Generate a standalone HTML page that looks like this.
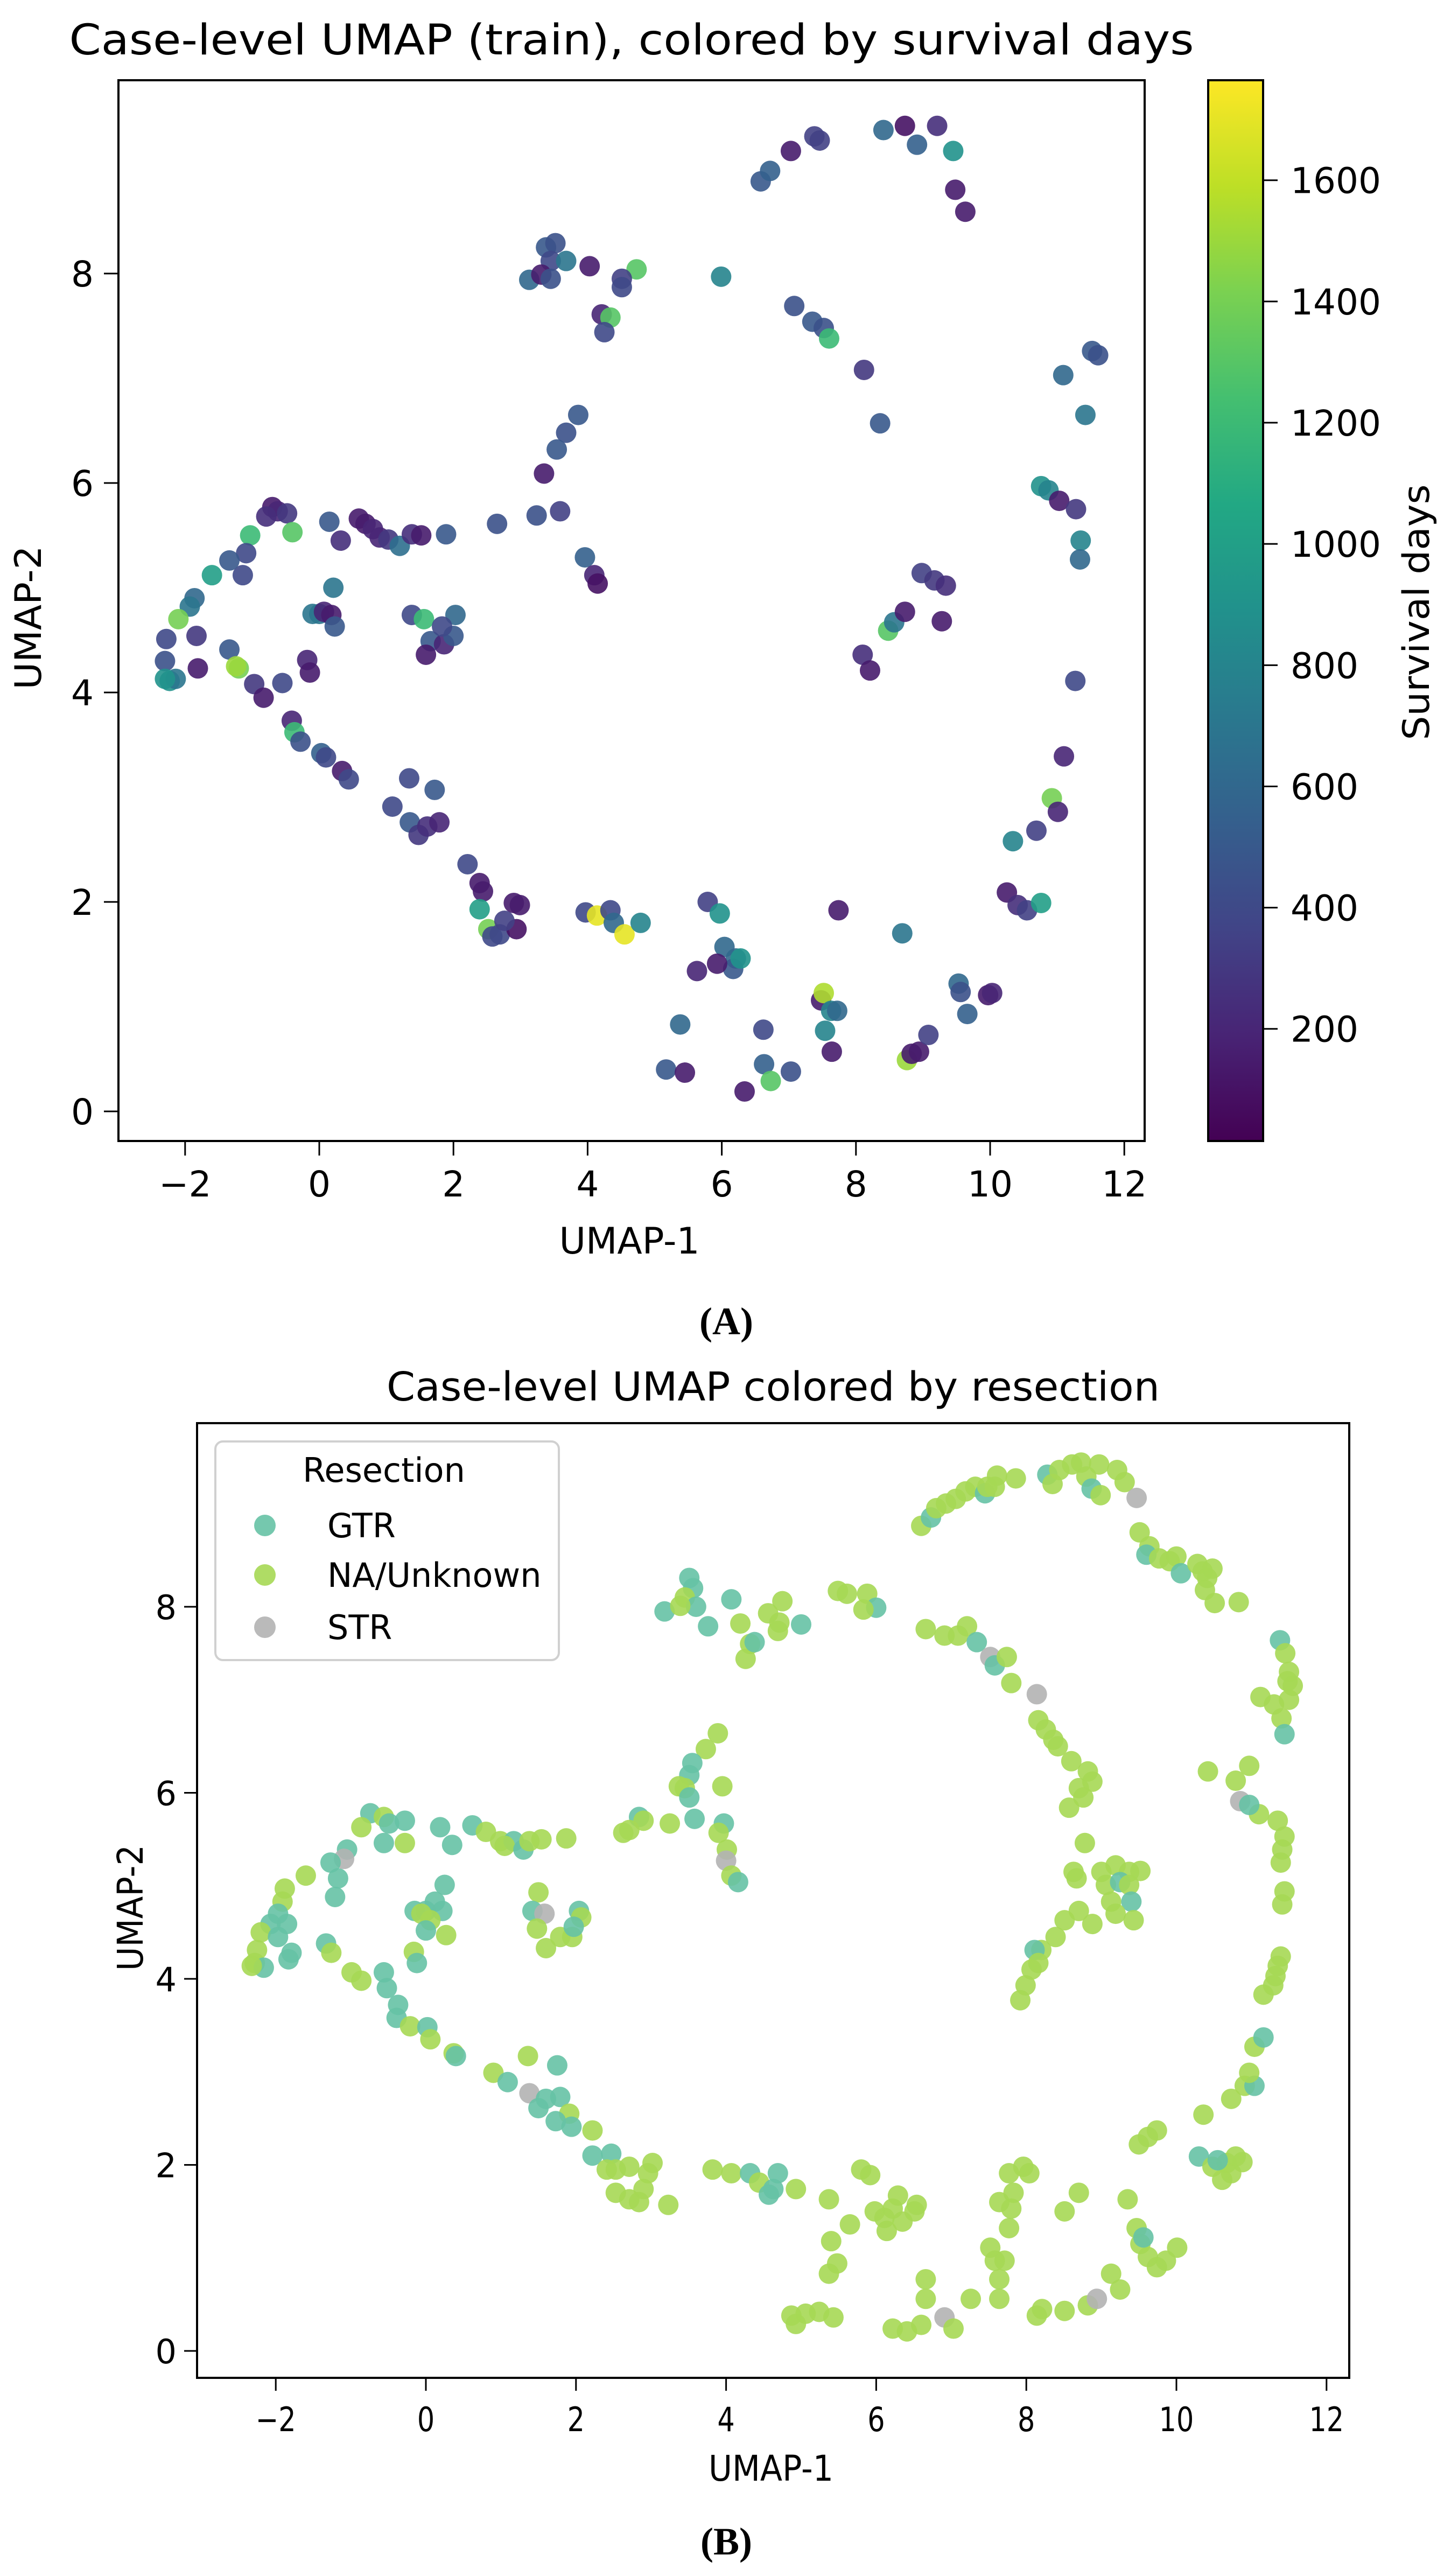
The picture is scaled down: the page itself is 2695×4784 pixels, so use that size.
<!DOCTYPE html>
<html><head><meta charset="utf-8">
<style>
html,body{margin:0;padding:0;background:#fff;}
svg{display:block;}
text{font-family:"DejaVu Sans","Liberation Sans",sans-serif;fill:#000;}
</style></head>
<body>
<svg id="fig" width="2695" height="4784" viewBox="0 0 2695 4784" xmlns="http://www.w3.org/2000/svg">
<defs>
<linearGradient id="viridis" x1="0" y1="1" x2="0" y2="0">
<stop offset="0" stop-color="#440154"/><stop offset="0.1" stop-color="#482475"/><stop offset="0.2" stop-color="#414487"/><stop offset="0.3" stop-color="#355f8d"/><stop offset="0.4" stop-color="#2a788e"/><stop offset="0.5" stop-color="#21918c"/><stop offset="0.6" stop-color="#22a884"/><stop offset="0.7" stop-color="#44bf70"/><stop offset="0.8" stop-color="#7ad151"/><stop offset="0.9" stop-color="#bddf26"/><stop offset="1" stop-color="#fde725"/>
</linearGradient>
<clipPath id="clipA"><rect x="220" y="149" width="1906" height="1970"/></clipPath>
<clipPath id="clipB"><rect x="366" y="2643" width="2140" height="1773"/></clipPath>
</defs>
<g id="panelA">
<text x="1173" y="101" font-size="78" text-anchor="middle" textLength="2089" lengthAdjust="spacingAndGlyphs">Case-level UMAP (train), colored by survival days</text>
<g id="pointsA" clip-path="url(#clipA)"></g>
<rect x="220" y="149" width="1906" height="1970" fill="none" stroke="#000" stroke-width="4"/>
<g id="ticksA"></g>
<text x="1169" y="2328" font-size="68" text-anchor="middle" textLength="261" lengthAdjust="spacingAndGlyphs">UMAP-1</text>
<text x="0" y="0" font-size="68" text-anchor="middle" textLength="267" lengthAdjust="spacingAndGlyphs" transform="translate(76,1147) rotate(-90)">UMAP-2</text>
<rect x="2244" y="149" width="102" height="1970" fill="url(#viridis)" stroke="#000" stroke-width="4"/>
<g id="cbTicks"></g>
<text x="0" y="0" font-size="68" text-anchor="middle" textLength="475" lengthAdjust="spacingAndGlyphs" transform="translate(2654,1137) rotate(-90)">Survival days</text>
<text x="1349" y="2478" font-size="72" font-weight="bold" text-anchor="middle" style="font-family:'Liberation Serif',serif">(A)</text>
</g>
<g id="panelB">
<text x="1436" y="2601" font-size="74" text-anchor="middle" textLength="1436" lengthAdjust="spacingAndGlyphs">Case-level UMAP colored by resection</text>
<g id="pointsB" clip-path="url(#clipB)"></g>
<rect x="366" y="2643" width="2140" height="1773" fill="none" stroke="#000" stroke-width="4"/>
<g id="ticksB"></g>
<text x="1432" y="4607" font-size="66" text-anchor="middle" textLength="232" lengthAdjust="spacingAndGlyphs">UMAP-1</text>
<text x="0" y="0" font-size="66" text-anchor="middle" textLength="234" lengthAdjust="spacingAndGlyphs" transform="translate(265,3543) rotate(-90)">UMAP-2</text>
<g>
<rect x="400" y="2677" width="638" height="406" rx="14" fill="#fff" fill-opacity="0.8" stroke="#d0d0d0" stroke-width="4"/>
<text x="713" y="2752" font-size="62" text-anchor="middle">Resection</text>
<g id="legendEntries"></g>
</g>
<text x="1349" y="4744" font-size="72" font-weight="bold" text-anchor="middle" style="font-family:'Liberation Serif',serif">(B)</text>
</g>
</svg>
<script>
// ---------- Panel A data ----------
const aX=[6.58,6.72,7.03,7.38,7.46,8.41,8.73,8.91,9.21,9.45,9.48,9.63,
3.38,3.52,3.45,3.68,3.13,3.31,3.45,4.03,4.73,4.51,4.51,4.21,4.34,4.25,5.99,7.08,7.35,7.52,7.60,8.12,8.36,11.09,11.42,11.52,11.61,
3.86,3.68,3.54,3.35,3.24,3.59,3.96,4.10,4.15,
-0.70,-0.62,-0.79,-0.48,-0.40,-1.03,-1.09,-1.14,-1.34,-1.60,-1.86,-1.93,-2.10,-2.28,-1.83,-2.30,-2.23,-2.14,-2.30,-1.81,-1.34,-1.20,-1.24,-0.97,-0.83,-0.55,-0.18,-0.14,-0.41,-0.37,-0.28,0.03,0.10,0.34,0.44,1.09,1.34,1.72,1.35,1.48,1.61,1.79,2.21,2.39,2.44,2.39,2.52,2.58,2.69,2.90,2.99,2.94,2.76,
-0.10,0.00,0.21,0.07,0.18,0.23,0.15,0.32,0.59,0.69,0.80,0.90,1.03,1.20,1.38,1.52,1.89,2.65,1.38,1.56,1.66,1.59,1.86,2.00,2.03,1.83,
3.97,4.14,4.34,4.39,4.55,4.79,5.79,5.97,6.04,6.21,6.17,6.28,5.63,5.93,5.38,5.17,5.45,6.34,6.62,6.63,6.73,7.03,7.48,7.52,7.63,7.72,7.54,7.64,7.74,8.69,8.76,8.83,8.94,9.08,9.53,9.56,9.66,9.97,10.03,
10.25,10.41,10.55,10.76,10.34,10.69,10.92,11.01,11.10,11.27,10.76,10.87,11.03,11.28,11.35,11.34,
8.10,8.21,8.48,8.57,8.73,9.28,8.98,9.17,9.34];
const aY=[8.88,8.98,9.17,9.31,9.27,9.37,9.41,9.23,9.41,9.17,8.80,8.59,
8.25,8.29,8.12,8.12,7.94,7.99,7.95,8.07,8.04,7.95,7.87,7.61,7.58,7.44,7.97,7.69,7.54,7.48,7.38,7.08,6.57,7.03,6.65,7.26,7.22,
6.65,6.48,6.32,6.09,5.69,5.73,5.29,5.12,5.04,
5.77,5.73,5.68,5.71,5.53,5.50,5.33,5.12,5.26,5.12,4.90,4.82,4.70,4.51,4.54,4.30,4.11,4.13,4.13,4.23,4.41,4.23,4.25,4.08,3.95,4.09,4.31,4.19,3.73,3.62,3.53,3.42,3.38,3.25,3.17,2.91,3.18,3.07,2.76,2.64,2.72,2.76,2.36,2.18,2.10,1.93,1.74,1.67,1.69,1.99,1.97,1.74,1.82,
4.75,4.75,5.00,4.77,4.74,4.63,5.63,5.45,5.66,5.61,5.56,5.48,5.46,5.40,5.51,5.50,5.51,5.61,4.74,4.70,4.49,4.36,4.46,4.54,4.74,4.63,
1.90,1.87,1.92,1.80,1.69,1.80,2.00,1.89,1.57,1.46,1.36,1.46,1.34,1.41,0.83,0.40,0.37,0.19,0.78,0.45,0.29,0.38,1.06,1.13,0.96,0.96,0.77,0.57,1.92,1.70,0.49,0.55,0.57,0.73,1.22,1.14,0.93,1.11,1.13,
2.09,1.97,1.92,1.99,2.58,2.68,2.99,2.86,3.39,4.11,5.97,5.93,5.83,5.75,5.45,5.27,
4.36,4.21,4.59,4.67,4.77,4.68,5.14,5.07,5.02];
const aDays=[500,550,150,350,350,600,100,550,250,900,150,150,
500,450,400,700,600,150,450,150,1300,350,400,200,1300,400,800,450,500,450,1200,300,500,600,700,500,450,
500,450,500,150,450,350,550,200,100,
150,200,250,300,1300,1200,400,400,500,1000,600,700,1400,400,300,450,900,700,900,150,500,1400,1500,300,150,400,200,150,200,1200,450,550,400,150,400,400,400,500,500,300,250,200,400,150,150,1000,1400,400,400,150,150,100,350,
700,700,700,200,150,500,500,250,150,150,200,200,300,650,250,150,500,450,400,1200,500,150,200,500,600,400,
400,1700,400,600,1700,800,350,900,600,600,500,900,200,150,600,500,150,150,400,550,1300,450,150,1550,800,600,800,150,150,700,1500,150,150,350,600,450,550,150,200,
150,250,350,1000,800,350,1400,200,200,400,900,800,150,300,800,600,
250,150,1300,700,150,150,350,300,250];
const aXTicks=[-2,0,2,4,6,8,10,12];
const aYTicks=[0,2,4,6,8];
const cbTicks=[200,400,600,800,1000,1200,1400,1600];

// ---------- Panel B data ----------
const bCats=["GTR","NA/Unknown","STR"];
const bX=[-0.74,-0.56,-0.49,-0.86,-0.28,-0.56,-0.28,-1.05,-1.09,-1.27,-1.17,-1.60,-1.21,-1.88,-1.91,-1.97,-1.85,-2.07,-2.20,-1.97,-2.25,-2.28,-2.16,-2.32,-1.79,-1.83,-1.33,-1.26,-0.99,-0.86,-0.56,-0.52,-0.37,-0.39,-0.21,0.02,0.06,0.37,0.40,
0.90,1.09,1.36,1.75,1.38,1.50,1.60,1.79,1.91,1.73,1.94,2.22,2.22,2.47,2.41,2.53,2.71,3.02,2.96,2.53,2.71,2.90,2.84,3.23,
0.19,0.35,0.62,0.80,0.99,1.17,1.05,1.30,1.38,1.54,1.87,
-0.15,0.00,0.12,0.25,0.22,-0.06,0.06,0.27,0.00,-0.16,-0.12,1.50,1.42,1.58,1.48,1.60,1.79,1.95,2.04,2.07,1.97,
3.51,3.56,3.45,3.60,3.18,3.39,3.76,4.07,4.19,4.32,4.26,4.38,4.56,4.71,4.75,5.00,4.69,5.49,5.61,5.88,6.00,5.83,
3.89,3.73,3.55,3.51,3.37,3.45,3.51,3.58,3.95,3.97,3.90,4.01,4.00,4.07,4.16,2.63,2.84,2.90,2.71,3.25,
3.82,4.07,4.32,4.44,4.69,4.63,4.57,4.93,5.37,5.80,5.92,5.65,5.40,5.48,5.37,4.87,5.06,5.24,5.43,4.93,
5.98,6.11,6.14,6.22,6.29,6.54,6.51,6.35,6.22,6.41,6.60,6.66,6.66,6.91,7.03,7.26,
7.52,7.58,7.64,7.64,7.71,7.77,7.64,7.83,7.80,7.77,7.96,8.04,8.14,8.21,8.51,8.51,8.70,8.82,8.94,9.13,9.25,9.35,9.47,9.52,9.62,9.74,9.86,10.01,9.56,
9.50,9.62,9.74,10.36,10.30,10.48,10.61,10.67,10.79,10.88,10.73,10.55,
10.73,10.91,11.04,10.97,11.04,11.16,11.16,11.29,11.32,11.35,11.39,11.41,11.44,11.39,11.41,11.44,11.35,11.10,10.85,10.97,10.42,10.79,10.97,
11.38,11.45,11.50,11.55,11.50,11.12,11.30,11.40,11.44,11.48,
6.66,6.91,7.09,7.21,7.34,7.52,7.58,7.74,7.80,8.14,8.16,8.26,8.36,8.42,8.60,8.82,8.88,8.70,8.76,8.57,8.78,8.63,8.67,
9.00,9.19,9.37,9.52,9.06,9.25,9.37,9.13,9.40,9.43,9.19,8.88,8.70,8.51,8.39,8.20,8.11,8.16,8.07,7.99,7.92,
6.60,6.73,6.80,6.93,7.06,7.19,7.32,7.45,7.48,7.61,7.58,7.86,8.28,8.35,8.44,8.61,8.73,8.80,8.97,8.87,8.99,9.21,9.31,9.47,
9.51,9.64,9.60,9.77,9.91,10.00,10.06,10.28,10.35,10.41,10.48,10.38,10.51,10.83];
const bY=[5.78,5.74,5.67,5.63,5.70,5.46,5.46,5.39,5.29,5.25,5.08,5.11,4.88,4.97,4.83,4.70,4.59,4.59,4.50,4.45,4.31,4.17,4.12,4.14,4.28,4.21,4.38,4.28,4.07,3.98,4.07,3.90,3.72,3.58,3.49,3.48,3.35,3.20,3.17,
2.99,2.89,3.17,3.07,2.77,2.61,2.71,2.73,2.55,2.47,2.41,2.37,2.10,2.12,1.95,1.95,1.98,2.02,1.91,1.70,1.63,1.74,1.60,1.57,
5.63,5.44,5.65,5.58,5.48,5.48,5.43,5.39,5.48,5.50,5.51,
4.73,4.73,4.83,5.01,4.73,4.70,4.63,4.47,4.52,4.29,4.17,4.93,4.73,4.70,4.54,4.33,4.45,4.45,4.73,4.66,4.56,
8.31,8.20,8.10,8.00,7.95,8.01,7.79,8.08,7.82,7.60,7.44,7.62,7.93,7.83,8.06,7.81,7.74,8.17,8.14,8.14,7.99,7.97,
6.64,6.47,6.32,6.19,6.07,6.05,5.95,5.72,6.07,5.67,5.57,5.39,5.27,5.11,5.04,5.57,5.74,5.70,5.60,5.67,
1.95,1.91,1.91,1.81,1.91,1.74,1.68,1.74,1.63,1.95,1.89,1.36,1.18,0.94,0.83,0.38,0.40,0.42,0.36,0.29,
1.50,1.43,1.29,1.53,1.67,1.57,1.50,1.39,0.24,0.21,0.28,0.77,0.56,0.36,0.24,0.56,
1.11,0.97,0.77,0.56,0.97,1.32,1.60,1.70,1.53,1.91,1.98,1.91,0.38,0.45,0.43,1.50,1.70,0.49,0.56,0.83,0.66,1.63,1.32,1.15,1.01,0.90,0.97,1.11,1.22,
2.22,2.30,2.37,2.54,2.09,1.98,1.84,2.02,2.09,2.03,1.91,2.05,
2.71,2.85,2.85,2.99,3.27,3.37,3.83,3.93,4.03,4.14,4.24,4.80,4.94,5.25,5.39,5.53,5.70,5.77,5.91,5.87,6.23,6.13,6.29,
7.64,7.50,7.30,7.15,7.00,7.03,6.95,6.80,6.63,7.20,
7.76,7.69,7.69,7.79,7.62,7.46,7.37,7.46,7.18,7.06,6.78,6.68,6.57,6.50,6.34,6.23,6.12,6.05,5.95,5.84,5.46,5.15,5.08,
5.15,5.22,5.15,5.16,5.01,5.04,5.01,4.83,4.83,4.63,4.70,4.59,4.73,4.63,4.45,4.31,4.31,4.17,4.10,3.93,3.77,
8.87,8.96,9.06,9.11,9.16,9.24,9.29,9.22,9.29,9.41,9.29,9.38,9.42,9.32,9.47,9.53,9.55,9.40,9.53,9.27,9.20,9.47,9.34,9.17,
8.80,8.65,8.56,8.52,8.49,8.54,8.36,8.46,8.38,8.31,8.41,8.18,8.04,8.05];
const bCat=[0,1,0,1,0,0,1,0,2,0,0,1,0,1,1,0,0,0,1,0,1,1,0,1,0,0,0,1,1,1,0,0,0,0,1,0,1,1,0,
1,0,1,0,2,0,0,0,1,0,0,1,0,0,1,1,1,1,1,1,1,1,1,1,
0,0,0,1,1,0,1,0,1,1,1,
0,0,0,0,0,1,1,1,0,1,0,1,0,2,1,1,1,1,0,1,0,
0,0,1,0,0,1,0,0,1,1,1,0,1,1,1,0,1,1,1,1,0,1,
1,1,0,0,1,1,0,0,1,0,1,1,2,1,0,1,0,1,1,1,
1,1,0,1,0,0,0,1,1,1,1,1,1,1,1,1,1,1,1,1,
1,1,1,1,1,1,1,1,1,1,1,1,1,2,1,1,
1,1,1,1,1,1,1,1,1,1,1,1,1,1,1,1,1,1,2,1,1,1,1,1,1,1,1,1,0,
1,1,1,1,0,1,1,1,1,1,1,0,
1,1,0,1,1,0,1,1,1,1,1,1,1,1,1,1,1,1,2,0,1,1,1,
0,1,1,1,1,1,1,1,0,1,
1,1,1,1,0,2,0,1,1,2,1,1,1,1,1,1,1,1,1,1,1,1,1,
1,1,1,1,1,0,1,1,0,1,1,1,1,1,1,1,0,1,1,1,1,
1,0,1,1,1,1,1,0,1,1,1,1,0,1,1,1,1,1,1,0,1,1,1,2,
1,1,0,1,1,1,0,1,1,1,1,1,1,1];
const bXTicks=[-2,0,2,4,6,8,10,12];
const bYTicks=[0,2,4,6,8];

// ---------- helpers ----------
const NS="http://www.w3.org/2000/svg";
function mk(tag,attrs,parent){const e=document.createElementNS(NS,tag);for(const k in attrs)e.setAttribute(k,attrs[k]);parent.appendChild(e);return e;}
const VIR=["#440154","#482475","#414487","#355f8d","#2a788e","#21918c","#22a884","#44bf70","#7ad151","#bddf26","#fde725"];
function hex(c){return [parseInt(c.slice(1,3),16),parseInt(c.slice(3,5),16),parseInt(c.slice(5,7),16)];}
function viridis(t){t=Math.max(0,Math.min(1,t));const p=t*10,i=Math.min(9,Math.floor(p)),f=p-i;const a=hex(VIR[i]),b=hex(VIR[i+1]);return "rgb("+a.map((v,k)=>Math.round(v+(b[k]-v)*f)).join(",")+")";}

// Panel A scales
const axA=v=>593+v*124.6, ayA=v=>2064-v*194.5;
const cbMin=15, cbMax=1765, cbY=v=>2119-(v-cbMin)/(cbMax-cbMin)*1970;
const gA=document.getElementById("pointsA");
for(let i=0;i<aX.length;i++){
  const c=mk("circle",{cx:axA(aX[i]),cy:ayA(aY[i]),r:19,fill:viridis((aDays[i]-cbMin)/(cbMax-cbMin)),"fill-opacity":0.9},gA);
  
  
}
const tA=document.getElementById("ticksA");
aXTicks.forEach(v=>{
  const l=mk("line",{x1:axA(v),x2:axA(v),y1:2119,y2:2146,stroke:"#000","stroke-width":3},tA);
  
  
  const t=mk("text",{x:axA(v),y:2222,"font-size":66,"text-anchor":"middle"},tA);t.textContent=v<0?"\u2212"+(-v):String(v);
  
  
});
aYTicks.forEach(v=>{
  const l=mk("line",{x1:193,x2:220,y1:ayA(v),y2:ayA(v),stroke:"#000","stroke-width":3},tA);
  
  
  const t=mk("text",{x:174,y:ayA(v)+24,"font-size":66,"text-anchor":"end"},tA);t.textContent=String(v);
  
  
});
const cbG=document.getElementById("cbTicks");
cbTicks.forEach(v=>{
  const l=mk("line",{x1:2346,x2:2373,y1:cbY(v),y2:cbY(v),stroke:"#000","stroke-width":3},cbG);
  
  
  const t=mk("text",{x:2397,y:cbY(v)+24,"font-size":66},cbG);t.textContent=String(v);
  
  
});

// Panel B scales
const axB=v=>791+v*139.4, ayB=v=>4366-v*172.75;
const catColors=["#66c2a5","#a6d854","#b3b3b3"];
const gB=document.getElementById("pointsB");
for(let i=0;i<bX.length;i++){
  const c=mk("circle",{cx:axB(bX[i]),cy:ayB(bY[i]),r:19,fill:catColors[bCat[i]],"fill-opacity":0.9},gB);
  
  
}
const tB=document.getElementById("ticksB");
bXTicks.forEach(v=>{
  const l=mk("line",{x1:axB(v),x2:axB(v),y1:4416,y2:4440,stroke:"#000","stroke-width":3},tB);
  
  
  const t=mk("text",{x:axB(v),y:4515,"font-size":62,"text-anchor":"middle",transform:"translate("+axB(v)+",0) scale(0.82,1) translate("+(-axB(v))+",0)"},tB);t.textContent=v<0?"\u2212"+(-v):String(v);
  
  
});
bYTicks.forEach(v=>{
  const l=mk("line",{x1:342,x2:366,y1:ayB(v),y2:ayB(v),stroke:"#000","stroke-width":3},tB);
  
  
  const t=mk("text",{x:328,y:ayB(v)+23,"font-size":62,"text-anchor":"end"},tB);t.textContent=String(v);
  
  
});
const lg=document.getElementById("legendEntries");
const legY=[2833,2925,3022];
bCats.forEach((name,i)=>{
  const c=mk("circle",{cx:492,cy:legY[i],r:20,fill:catColors[i],"fill-opacity":0.9},lg);
  
  
  const t=mk("text",{x:608,y:legY[i]+22,"font-size":62},lg);t.textContent=name;
  
  
});
</script>
</body></html>
